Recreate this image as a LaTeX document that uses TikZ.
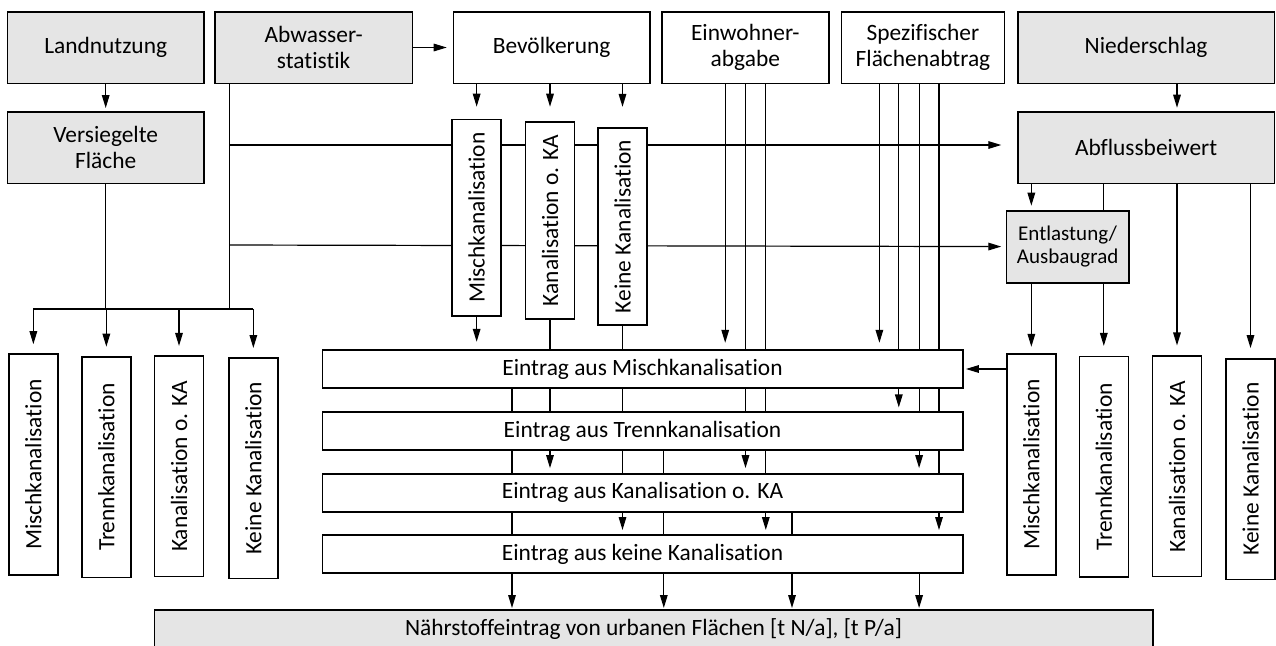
\documentclass[tikz,border=0pt]{standalone}
\usepackage{fontspec}
\setmainfont{Carlito}[Ligatures=NoCommon]
\usepackage{graphicx}
\usetikzlibrary{arrows.meta,backgrounds}

\tikzset{
  box/.style={draw,line width=0.8pt,inner sep=0pt,outer sep=0pt,align=center},
  greybox/.style={box,fill=gray!20},
  whitebox/.style={box,fill=white},
  vbox/.style={box,fill=white,minimum width=24.5pt},
  eintrag/.style={whitebox,minimum width=320.2pt,minimum height=19pt},
  link/.style={line width=0.6pt},
  arr/.style={link,-{Triangle[length=6.5pt,width=3.8pt]},shorten >=2.5pt},
}

\begin{document}
\begin{tikzpicture}[x=0.5pt,y=-0.5pt,font=\fontsize{11.7pt}{13pt}\selectfont]
  \useasboundingbox (0,0) rectangle (1276,645);

  %--- input data (top row) ---
  \node[greybox,minimum width=98.35pt,minimum height=35.8pt] (land) at (105.7,47.5) {Landnutzung};
  \node[greybox,minimum width=98.65pt,minimum height=35.8pt] (abw) at (313.65,47.5) {Abwasser-\\statistik};
  \node[whitebox,minimum width=98.35pt,minimum height=35.8pt] (bev) at (551.65,47.5) {Bevölkerung};
  \node[whitebox,minimum width=83.65pt,minimum height=35.8pt] (ein) at (745.35,47.5) {Einwohner-\\abgabe};
  \node[whitebox,minimum width=81.35pt,minimum height=35.8pt] (spez) at (922.95,47.5) {Spezifischer\\Flächenabtrag};
  \node[greybox,minimum width=128.4pt,minimum height=35.8pt] (nied) at (1146.1,47.5) {Niederschlag};

  %--- derived data ---
  \node[greybox,minimum width=98.35pt,minimum height=35.65pt] (vers) at (105.7,147.65) {Versiegelte\\Fläche};
  \node[greybox,minimum width=128.4pt,minimum height=35.8pt] (abfl) at (1146.1,147.5) {Abflussbeiwert};
  \node[greybox,minimum width=61.35pt,minimum height=36pt,
        font=\fontsize{10.5pt}{11.2pt}\selectfont] (entl) at (1067.65,246.7) {Entlastung/\\Ausbaugrad};

  %--- population by sewer type ---
  \node[vbox,minimum height=98.35pt] (vmisch) at (476.65,217.65) {\rotatebox{90}{Mischkanalisation}};
  \node[vbox,minimum height=98.35pt] (vka) at (550,220.35) {\rotatebox{90}{Kanalisation o. KA}};
  \node[vbox,minimum height=98.35pt] (vkeine) at (622.5,226.5) {\rotatebox{90}{Keine Kanalisation}};

  %--- urban areas by sewer type (left) ---
  \node[vbox,minimum height=110.3pt] (lmisch) at (33.35,464.5) {\rotatebox{90}{Mischkanalisation}};
  \node[vbox,minimum height=110.3pt] (ltrenn) at (106.35,467) {\rotatebox{90}{Trennkanalisation}};
  \node[vbox,minimum height=110.3pt] (lka) at (179,466.2) {\rotatebox{90}{Kanalisation o. KA}};
  \node[vbox,minimum height=110.3pt] (lkeine) at (253.35,468.3) {\rotatebox{90}{Keine Kanalisation}};

  %--- runoff by sewer type (right) ---
  \node[vbox,minimum height=110.3pt] (rmisch) at (1031.35,464.5) {\rotatebox{90}{Mischkanalisation}};
  \node[vbox,minimum height=110.3pt] (rtrenn) at (1103.8,466.85) {\rotatebox{90}{Trennkanalisation}};
  \node[vbox,minimum height=110.3pt] (rka) at (1177,466.35) {\rotatebox{90}{Kanalisation o. KA}};
  \node[vbox,minimum height=110.3pt] (rkeine) at (1250.5,469) {\rotatebox{90}{Keine Kanalisation}};

  %--- inputs per pathway ---
  \node[eintrag] (emisch) at (642.5,369) {Eintrag aus Mischkanalisation};
  \node[eintrag] (etrenn) at (642.5,431) {Eintrag aus Trennkanalisation};
  \node[eintrag] (eka) at (642.5,492.7) {Eintrag aus Kanalisation o. KA};
  \node[eintrag] (ekeine) at (642.5,554) {Eintrag aus keine Kanalisation};

  %--- result ---
  \node[greybox,minimum width=499.2pt,minimum height=19pt] (naehr) at (653.5,629)
       {Nährstoffeintrag von urbanen Flächen [t N/a], [t P/a]};

  \begin{pgfonlayer}{background}
    %--- top row links ---
    \draw[arr,shorten >=2pt] (land) -- (vers);
    \draw[arr,shorten >=3.3pt] (abw) -- (bev);
    \foreach \n/\s in {vmisch/6.3pt,vka/7.65pt,vkeine/10.65pt}
      \draw[arr,shorten >=\s] (bev.south -| \n.north) -- (\n.north);

    %--- Abwasserstatistik branches ---
    \coordinate (split) at (229.3,309);
    \coordinate (tap1) at (229.3,145);
    \coordinate (tap2) at (229.3,245);
    \draw[link] (abw.south -| split) -- (split);
    \draw[link] (vers) -- (vers |- split);
    \draw[link] (split -| lmisch) -- (split -| lkeine);
    \foreach \n in {lmisch,ltrenn,lka,lkeine}
      \draw[arr,shorten >=5pt] (split -| \n) -- (\n);
    \draw[arr] (tap1) -- (tap1 -| entl.west);
    \draw[arr] (tap2) -- (entl);

    %--- Niederschlag, Abflussbeiwert, Entlastung ---
    \draw[arr,shorten >=2pt] (nied.south -| rka) -- (abfl.north -| rka);
    \draw[arr] (abfl.south -| rmisch) -- (entl.north -| rmisch);
    \draw[arr,shorten >=3.7pt] (entl.south -| rmisch) -- (rmisch);
    \foreach \n in {rtrenn,rka,rkeine}
      \draw[arr,shorten >=5.3pt] (abfl.south -| \n) -- (\n);
    \draw[arr,shorten >=1.6pt] (rmisch.west |- emisch) -- (emisch);

    %--- population to the Eintrag boxes ---
    \draw[arr,shorten >=4.1pt] (vmisch) -- (vmisch |- emisch.north);
    \draw[arr,shorten >=2.8pt] (vka) -- (vka |- eka.north);
    \draw[arr] (vkeine) -- (vkeine |- ekeine.north);

    %--- Einwohnerabgabe and Flaechenabtrag ---
    \draw[arr,shorten >=3.6pt] (725.2,0 |- ein.south) -- (725.2,0 |- emisch.north);
    \draw[arr,shorten >=2.8pt] (745.5,0 |- ein.south) -- (745.5,0 |- eka.north);
    \draw[arr] (765.8,0 |- ein.south) -- (765.8,0 |- ekeine.north);
    \draw[arr,shorten >=3.6pt] (879.4,0 |- spez.south) -- (879.4,0 |- emisch.north);
    \draw[arr,shorten >=2.3pt] (898.8,0 |- spez.south) -- (898.8,0 |- etrenn.north);
    \draw[arr,shorten >=2.8pt] (919.1,0 |- spez.south) -- (919.1,0 |- eka.north);
    \draw[arr] (939,0 |- spez.south) -- (939,0 |- ekeine.north);

    %--- Eintrag boxes to the result ---
    \foreach \x/\e in {512/emisch,663.8/etrenn,792/eka,919.1/ekeine}
      \draw[arr,shorten >=1pt] (\x,0 |- \e.south) -- (\x,0 |- naehr.north);
  \end{pgfonlayer}

\end{tikzpicture}
\end{document}
